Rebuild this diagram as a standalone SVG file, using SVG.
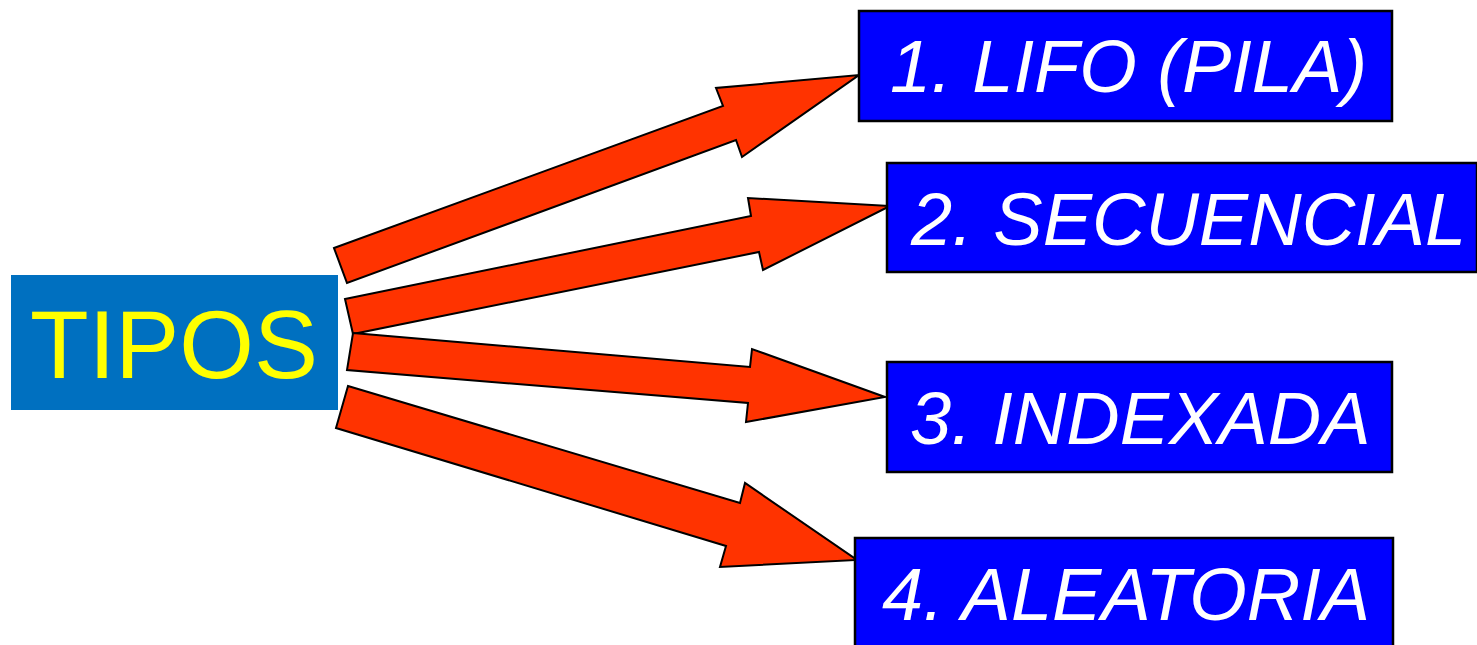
<svg xmlns="http://www.w3.org/2000/svg" width="1477" height="645" viewBox="0 0 1477 645">
<style>
.arrow{fill:#FF3300;stroke:#000;stroke-width:2;stroke-linejoin:miter}
.box{fill:#0000FF;stroke:#000;stroke-width:2.5}
.lbl{fill:#FFFFFF;font-family:"Liberation Sans",Arial,sans-serif;font-style:italic;font-size:74px}
</style>
<rect width="1477" height="645" fill="#FFFFFF"/>
<g id="connectors">
<polygon class="arrow" points="334,248 723,106 716,88 859,75 742,157 736,140 347,283"/>
<polygon class="arrow" points="345,299 751,216 748,198 890,206 763,270 759,252 353,334"/>
<polygon class="arrow" points="353,333 750,367 752,349 885,397 746,422 748,403 347,370"/>
<polygon class="arrow" points="348,386 740,503 745,483 857,560 720,567 726,546 336,428"/>
</g>
<g id="tipos">
<rect x="11" y="275" width="327" height="135" fill="#0070C0"/>
<text x="30" y="378" fill="#FFFF00" font-family="'Liberation Sans',Arial,sans-serif" font-size="96">TIPOS</text>
</g>
<g id="lifo">
<rect class="box" x="859" y="11" width="533" height="110"/>
<text class="lbl" x="890" y="92">1. LIFO (PILA)</text>
</g>
<g id="secuencial">
<rect class="box" x="887" y="163" width="590" height="109"/>
<text class="lbl" x="911" y="245">2. SECUENCIAL</text>
</g>
<g id="indexada">
<rect class="box" x="887" y="362" width="505" height="110"/>
<text class="lbl" x="910" y="444">3. INDEXADA</text>
</g>
<g id="aleatoria">
<rect class="box" x="855" y="538" width="538" height="112"/>
<text class="lbl" x="882" y="620">4. ALEATORIA</text>
</g>
</svg>
